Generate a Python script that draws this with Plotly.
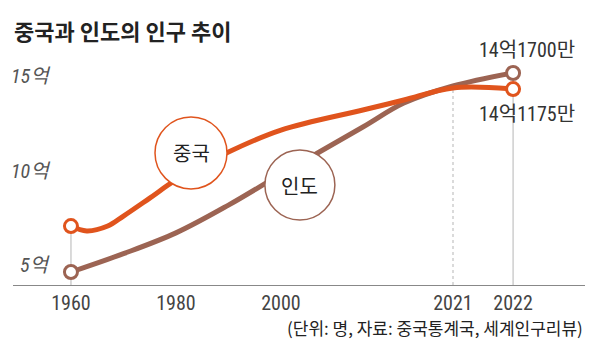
import numpy as np
import plotly.graph_objects as go

# ---- data (values in 억 명) ----
tick_years = [1960, 1980, 2000, 2021, 2022]
tick_labels = ["1960", "1980", "2000", "2021", "2022"]

china_years = [1960, 1963, 1967, 1970, 1975, 1980, 1990, 2000, 2010, 2015, 2021, 2022]
china_vals = [7.06, 6.80, 7.06, 7.59, 8.54, 9.50, 10.98, 12.14, 13.20, 13.73, 14.37, 14.31]

india_years = [1960, 1970, 1980, 1990, 2000, 2010, 2015, 2021, 2022]
india_vals = [4.63, 5.60, 6.70, 8.17, 9.81, 12.30, 13.57, 14.47, 15.16]

y_ticks = [5, 10, 15]
y_tick_labels = ["5억", "10억", "15억"]

china_label = "14억1175만"
india_label = "14억1700만"

# ---- styling ----
ORANGE = "#e0541d"
BROWN = "#9c6453"
NARROW = "Liberation Sans Narrow, Roboto Condensed, Roboto, Noto Sans CJK KR"
KR = "Noto Sans CJK KR"

# page body has an 8px margin, so the figure is drawn 8px smaller
W, H = 592, 350

# non-uniform x scale: tick years mapped to custom spaced positions
tick_pos = [0, 1, 2, 3.638, 4.21]


def xs(years):
    return list(np.interp(years, tick_years, tick_pos))


Y_MIN, Y_MAX = 3.942, 16.376
X_MIN, X_MAX = -0.552, 4.895

fig = go.Figure()

# vertical guide lines
guides = [
    (1960, china_vals[0], "solid"),
    (2021, china_vals[-2], "dot"),
    (2022, china_vals[-1], "solid"),
]
for yr, top, dash in guides:
    xp = xs([yr])[0]
    fig.add_shape(type="line", xref="x", yref="y", x0=xp, x1=xp, y0=Y_MIN, y1=top,
                  line=dict(color="#b5b5b5", width=1, dash=dash), layer="below")

fig.add_trace(go.Scatter(x=xs(india_years), y=india_vals, mode="lines",
                         line=dict(color=BROWN, width=5, shape="spline", smoothing=1),
                         hoverinfo="skip", showlegend=False))
fig.add_trace(go.Scatter(x=xs(china_years), y=china_vals, mode="lines",
                         line=dict(color=ORANGE, width=5, shape="spline", smoothing=1),
                         hoverinfo="skip", showlegend=False))

# endpoint markers
fig.add_trace(go.Scatter(x=xs([india_years[0], india_years[-1]]), y=[india_vals[0], india_vals[-1]],
                         mode="markers",
                         marker=dict(size=13, color="white", line=dict(color=BROWN, width=3)),
                         hoverinfo="skip", showlegend=False))
fig.add_trace(go.Scatter(x=xs([china_years[0], china_years[-1]]), y=[china_vals[0], china_vals[-1]],
                         mode="markers",
                         marker=dict(size=13, color="white", line=dict(color=ORANGE, width=3)),
                         hoverinfo="skip", showlegend=False))

# series label bubbles
bubbles = [("중국", 1.143, 10.93, 36, ORANGE), ("인도", 2.18, 9.23, 35, BROWN)]
for txt, bx, by, r, col in bubbles:
    fig.add_shape(type="circle", xref="x", yref="y", xsizemode="pixel", ysizemode="pixel",
                  xanchor=bx, yanchor=by, x0=-r, x1=r, y0=-r, y1=r,
                  fillcolor="white", line=dict(color=col, width=1.5), layer="above")
    fig.add_annotation(x=bx, y=by, xref="x", yref="y", text=txt, showarrow=False,
                       font=dict(family=KR, size=20, color="#222"))

# end value labels
x2022 = xs([2022])[0]
fig.add_annotation(x=x2022, y=india_vals[-1], text=india_label, showarrow=False,
                   xshift=14, yshift=23, font=dict(family=NARROW, size=20, color="#333"))
fig.add_annotation(x=x2022, y=china_vals[-1], text=china_label, showarrow=False,
                   xshift=14, yshift=-25, font=dict(family=NARROW, size=20, color="#333"))

# y tick labels (inside, right aligned)
for v, lab in zip(y_ticks, y_tick_labels):
    fig.add_annotation(x=0.07, xref="paper", y=v, yref="y", text="<i>" + lab + "</i>",
                       xanchor="right", showarrow=False,
                       font=dict(family=NARROW, size=20, color="#555"))

# source
fig.add_annotation(x=1, xref="paper", y=-0.179, yref="paper", xanchor="right", yanchor="middle",
                   text="(단위: 명, 자료: 중국통계국, 세계인구리뷰)", showarrow=False,
                   font=dict(family=KR, size=17, color="#222"))

fig.update_layout(
    width=W, height=H,
    margin=dict(l=5, r=15, t=42, b=73),
    paper_bgcolor="white", plot_bgcolor="white",
    title=dict(text="<b>중국과 인도의 인구 추이</b>", x=6 / W, xanchor="left",
               xref="container", y=1 - 24 / H, yanchor="middle",
               font=dict(family=KR, size=22, color="#222")),
    xaxis=dict(range=[X_MIN, X_MAX], tickvals=tick_pos, ticktext=tick_labels,
               showgrid=False, zeroline=False, showline=True, linecolor="#888", linewidth=1,
               ticks="", tickfont=dict(family=NARROW, size=20, color="#444")),
    yaxis=dict(range=[Y_MIN, Y_MAX], showgrid=False, zeroline=False, showticklabels=False,
               showline=False),
    showlegend=False,
)

fig.write_html("out.html")
